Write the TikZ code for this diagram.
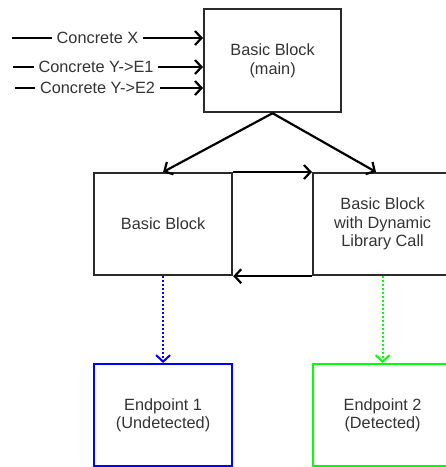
\documentclass[tikz,border=0pt]{standalone}
\usepackage{fontspec}
\setmainfont{Liberation Sans}
\usetikzlibrary{arrows.meta,calc}
\definecolor{txt}{HTML}{333333}
\definecolor{boxc}{HTML}{2A2A2A}
\definecolor{epblue}{HTML}{0000FF}
\definecolor{epgreen}{HTML}{00FF00}
\begin{document}
\begin{tikzpicture}[x=1pt,y=-1pt,
  blk/.style={draw=boxc, line width=2.2pt, anchor=north west, align=center,
    text=txt, font=\fontsize{16.3}{18.5}\selectfont, inner sep=0pt,
    minimum width=138pt, minimum height=102pt},
  conn/.style={draw=black, line width=2.2pt,
    -{Straight Barb[length=6.5pt,width=14pt,line width=2.2pt]}},
  dotconn/.style={line width=2.2pt, dash pattern=on 2pt off 2pt,
    -{Straight Barb[length=6.5pt,width=14pt,line width=2pt,sep=0pt]}},
  lbl/.style={fill=white, text=txt, font=\fontsize{16.3}{18.5}\selectfont,
    inner xsep=5pt, inner ysep=1pt}]
\useasboundingbox (0,0) rectangle (446,467);

\node[blk, minimum width=137pt, minimum height=103pt] (main) at (203,8)
  {Basic Block\\(main)};
\node[blk] (bb) at (93,172) {Basic Block};
\node[blk, minimum width=139pt] (dyn) at (312,172)
  {Basic Block\\with Dynamic\\Library Call};
\node[blk, draw=epblue] (ep1) at (93,363) {Endpoint 1\\(Undetected)};
\node[blk, draw=epgreen, minimum width=139pt] (ep2) at (312,363)
  {Endpoint 2\\(Detected)};

% input arrows
\coordinate (inx) at (12,38);
\coordinate (iny1) at (13,67);
\coordinate (iny2) at (15,88);
\draw[conn] (inx) -- (main.west |- inx);
\draw[conn] (iny1) -- (main.west |- iny1);
\draw[conn] (iny2) -- (main.west |- iny2);
\node[lbl] (lx) at (97.5,38) {Concrete X};
\node[lbl] (ly1) at (96,67) {Concrete Y->E1};
\node[lbl] (ly2) at (97.5,88) {Concrete Y->E2};

% main to blocks
\draw[conn] (main.south) -- (bb.north);
\draw[conn] (main.south) -- ($(dyn.north west)+(64,0)$);

% loop between blocks
\draw[conn] (bb.north east) -- (dyn.north west);
\draw[conn] (dyn.south west) -- (bb.south east);

% to endpoints
\draw[dotconn, draw=epblue] (bb.south) -- (ep1.north);
\draw[dotconn, draw=epgreen] (dyn.south -| ep2.north) -- (ep2.north);
\end{tikzpicture}
\end{document}
